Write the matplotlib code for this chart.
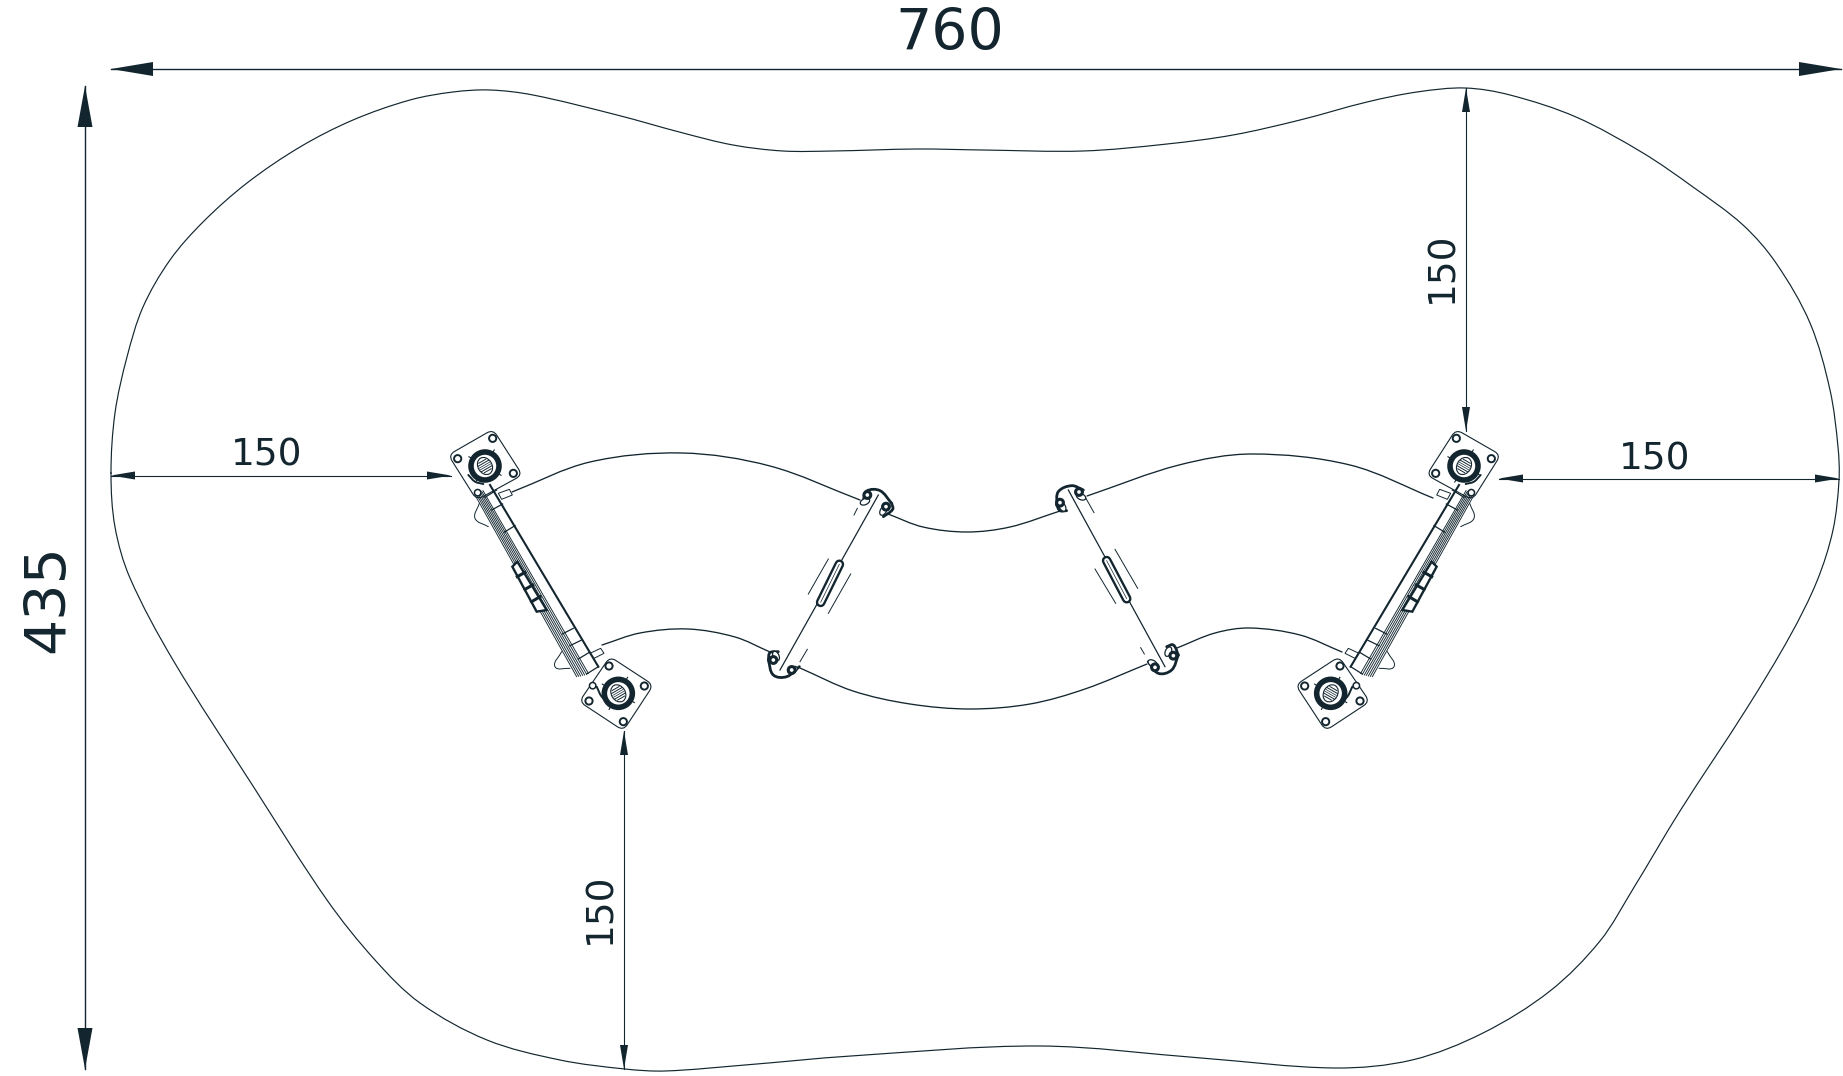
import numpy as np
import matplotlib
matplotlib.use("Agg")
import matplotlib.pyplot as plt
from matplotlib.path import Path
from matplotlib.patches import PathPatch, Polygon, Circle, Ellipse

INK = "#13262f"
W, H = 1843, 1076

# ---- dimension labels ----
dim_width = "760"
dim_height = "435"
dim_clear = "150"

# ---- play-area outline (pixels, clockwise from the left) ----
outline_x = [111, 115, 127, 143, 170, 203, 247, 300, 353, 410, 453, 490, 533, 617, 683, 733, 783, 833, 917, 983,
             1083, 1167, 1233, 1300, 1367, 1417, 1465, 1510, 1576, 1643, 1693, 1743, 1776, 1810, 1830, 1838, 1839,
             1833, 1817, 1790, 1747, 1680, 1633, 1600, 1550, 1483, 1412, 1335, 1201, 1040, 851, 745, 665, 625, 560,
             487, 420, 375, 327, 253, 173, 130, 115]
outline_y = [473, 413, 357, 307, 260, 222, 183, 147, 120, 100, 92, 90, 95, 115, 133, 145, 151, 151, 149, 150,
             151, 144, 135, 120, 102, 92, 88, 95, 117, 153, 187, 225, 263, 323, 390, 447, 480,
             530, 581, 636, 708, 811, 889, 941, 991, 1033, 1060, 1068, 1058, 1046, 1056, 1065, 1071, 1069, 1060,
             1040, 1003, 960, 900, 786, 660, 578, 527]

# ---- net edge curves ----
arc_upper_left = [(512, 492), (590, 462), (682, 453), (770, 466), (860, 500)]
arc_lower_left = [(602, 645), (640, 633), (688, 629), (735, 637), (770, 652)]
arc_mid_top = [(888, 514), (923, 527), (967, 532), (1010, 527), (1060, 511)]
arc_mid_bottom = [(800, 668), (853, 691), (910, 704), (970, 709), (1030, 704), (1085, 689), (1147, 664)]
arc_upper_right = [(1087, 496), (1179, 465), (1252, 454), (1350, 465), (1433, 498)]
arc_lower_right = [(1177, 648), (1215, 633), (1250, 628), (1300, 635), (1342, 652)]

# ---- connecting rods and their grips (zoom-2 frame: x=750+z/3, y=470+z/3) ----
rod_left = [(385, 75), (90, 600)]
rod_right = [(955, 60), (1245, 590)]
grip_left = [(268, 283), (212, 397)]
grip_right = [(1070, 272), (1130, 386)]
side_dashes = [((235, 267), (175, 372)), ((302, 312), (235, 430)), ((322, 115), (312, 135)), ((172, 538), (150, 575)),
               ((1095, 238), (1163, 355)), ((1035, 297), (1097, 400)), ((1005, 80), (1032, 128)), ((1172, 533), (1183, 552))]
clip_arcs = [[(340, 90), (350, 63), (390, 62), (425, 100)], [(425, 100), (428, 118), (400, 140)],
             [(920, 105), (925, 65), (965, 47), (1000, 60)], [(920, 105), (930, 122), (950, 122)],
             [(55, 570), (70, 615), (110, 620), (148, 590)], [(55, 570), (60, 548), (85, 545)],
             [(1195, 575), (1225, 610), (1265, 600), (1285, 555)], [(1285, 555), (1270, 525), (1250, 530)]]
clip_eyes = [(352, 75), (408, 110), (930, 98), (987, 66), (70, 570), (125, 600), (1215, 592), (1270, 557)]
clip_ovals = [(345, 95, -25), (400, 122, -60), (937, 110, 60), (993, 80, 25),
              (78, 558, 65), (128, 600, -30), (1208, 580, 30), (1255, 545, -65)]

# ---- left post assembly (zoom-1 frame: x=430+z/3, y=410+z/3); the right one mirrors it ----
mirror_sum = 1949
plate_top = [(55, 135), (189, 58), (277, 195), (140, 270)]
plate_bottom = [(540, 740), (670, 825), (580, 962), (448, 875)]
hub_top = (165, 168)
hub_bottom = (565, 850)
holes_top = [(188, 85), (83, 146), (250, 190)]
holes_bottom = [(537, 768), (643, 828), (580, 935), (477, 873)]
rail_line = [(180, 225), (505, 770)]
hatch_starts = [(135, 255), (139, 252), (143, 250), (147, 248), (151, 246), (155, 244), (159, 242)]
hatch_ends = [(440, 800), (446, 799), (452, 798), (458, 796), (464, 795), (470, 793), (475, 790)]
rungs = [((165, 262), (200, 240)), ((185, 300), (218, 282)), ((222, 367), (255, 347)),
         ((397, 672), (430, 655)), ((420, 707), (455, 690)), ((445, 747), (478, 727)), ((470, 792), (505, 770))]
chain_outer = [(247, 470), (262, 455), (350, 600), (320, 605), (247, 470)]
chain_bars = [((262, 500), (285, 487)), ((285, 538), (308, 525)), ((305, 575), (330, 560))]
bulges = [[(148, 280), (135, 325), (175, 350)], [(395, 725), (375, 770), (420, 775)]]
tabs = [[(205, 250), (238, 238), (247, 255), (215, 268)], [(480, 730), (512, 715), (522, 730), (492, 745)]]
straps = [[(115, 195), (135, 215), (160, 222)], [(500, 830), (515, 860), (540, 882)]]


def smooth_path(points, closed=False):
    """Chord-scaled Catmull-Rom through the read points, as cubic Bezier segments."""
    p = np.asarray(points, float)
    n = len(p)
    tangents = []
    for i in range(n):
        if closed:
            a, b = p[(i - 1) % n], p[(i + 1) % n]
        else:
            a, b = p[max(i - 1, 0)], p[min(i + 1, n - 1)]
        t = b - a
        tangents.append(t / np.linalg.norm(t))
    verts = [p[0]]
    codes = [Path.MOVETO]
    for i in range(n if closed else n - 1):
        j = (i + 1) % n
        chord = np.linalg.norm(p[j] - p[i])
        verts += [p[i] + tangents[i] * chord / 3, p[j] - tangents[j] * chord / 3, p[j]]
        codes += [Path.CURVE4] * 3
    return Path(verts, codes)


def rounded_path(corners, r):
    c = np.asarray(corners, float)
    n = len(c)
    verts, codes = [], []
    for i in range(n):
        a, b, d = c[i - 1], c[i], c[(i + 1) % n]
        u = (a - b) / np.linalg.norm(a - b)
        v = (d - b) / np.linalg.norm(d - b)
        verts += [b + u * r, b, b + v * r]
        codes += [Path.MOVETO if i == 0 else Path.LINETO, Path.CURVE3, Path.CURVE3]
    verts.append(verts[0])
    codes.append(Path.CLOSEPOLY)
    return Path(verts, codes)


fig = plt.figure(figsize=(W / 100, H / 100), dpi=100, facecolor="white")
ax = fig.add_axes([0, 0, 1, 1])
ax.set_xlim(0, W)
ax.set_ylim(H, 0)
ax.axis("off")


def curve(points, lw=0.8, closed=False, color=INK, zorder=2):
    ax.add_patch(PathPatch(smooth_path(points, closed), fc="none", ec=color, lw=lw, capstyle="round", zorder=zorder))


def arrow_head(tip, direction, length, width):
    tip = np.asarray(tip, float)
    d = np.asarray(direction, float)
    n = np.array([-d[1], d[0]])
    base = tip - d * length
    ax.add_patch(Polygon([tip, base + n * width / 2, base - n * width / 2], closed=True, fc=INK, ec="none", zorder=4))


def dimension(p0, p1, length, width, lw):
    p0, p1 = np.asarray(p0, float), np.asarray(p1, float)
    ax.plot([p0[0], p1[0]], [p0[1], p1[1]], color=INK, lw=lw, zorder=3)
    d = (p1 - p0) / np.linalg.norm(p1 - p0)
    arrow_head(p0, -d, length, width)
    arrow_head(p1, d, length, width)


# outline and net
curve(list(zip(outline_x, outline_y)), lw=0.85, closed=True)
for arc in (arc_upper_left, arc_lower_left, arc_mid_top, arc_mid_bottom, arc_upper_right, arc_lower_right):
    curve(arc, lw=0.95)


def z2(p):
    return (750 + p[0] / 3, 470 + p[1] / 3)


for rod in (rod_left, rod_right):
    a, b = z2(rod[0]), z2(rod[1])
    ax.plot([a[0], b[0]], [a[1], b[1]], color=INK, lw=0.9)
for g in (grip_left, grip_right):
    a, b = z2(g[0]), z2(g[1])
    ax.plot([a[0], b[0]], [a[1], b[1]], color=INK, lw=7.0, solid_capstyle="round", zorder=3)
    ax.plot([a[0], b[0]], [a[1], b[1]], color="white", lw=3.6, solid_capstyle="round", zorder=3)
    ax.plot([a[0], b[0]], [a[1], b[1]], color=INK, lw=0.5, zorder=3)
for s in side_dashes:
    a, b = z2(s[0]), z2(s[1])
    ax.plot([a[0], b[0]], [a[1], b[1]], color=INK, lw=0.7)
for arc in clip_arcs:
    curve([z2(p) for p in arc], lw=2.0)
for zx, zy, ang in clip_ovals:
    ax.add_patch(Ellipse(z2((zx, zy)), 10, 6, angle=ang, fc="white", ec=INK, lw=0.9, zorder=2.6))
for e in clip_eyes:
    x, y = z2(e)
    ax.add_patch(Circle((x, y), 3.4, fc="white", ec=INK, lw=2.2, zorder=3))


def assembly(mirror):
    def m(p):
        x, y = 430 + p[0] / 3, 410 + p[1] / 3
        return (mirror_sum - x if mirror else x, y)

    for corners, hub, holes in ((plate_top, hub_top, holes_top), (plate_bottom, hub_bottom, holes_bottom)):
        ax.add_patch(PathPatch(rounded_path([m(c) for c in corners], 7), fc="white", ec=INK, lw=0.8))
        for h in holes:
            ax.add_patch(Circle(m(h), 3.6, fc="white", ec=INK, lw=1.4))
        cx, cy = m(hub)
        ax.add_patch(Circle((cx, cy), 14.0, fc="white", ec=INK, lw=4.0, zorder=3))
        ang = np.deg2rad(150 if not mirror else 30)
        d = np.array([np.cos(ang), np.sin(ang)])
        nrm = np.array([-d[1], d[0]])
        ax.add_patch(Ellipse((cx, cy), 18, 14, angle=np.rad2deg(ang) + 90, fc="white", ec=INK, lw=0.8, zorder=3.2))
        for off, half in ((-5.5, 4), (-3.2, 6), (3.2, 6), (5.5, 4)):
            a = np.array([cx, cy]) + nrm * off - d * half
            b = np.array([cx, cy]) + nrm * off + d * half
            ax.plot([a[0], b[0]], [a[1], b[1]], color=INK, lw=0.7, zorder=4)
        for off in (-1, 1):
            a = np.array([cx, cy]) + nrm * off - d * 6
            b = np.array([cx, cy]) + nrm * off + d * 6
            ax.plot([a[0], b[0]], [a[1], b[1]], color=INK, lw=0.5, zorder=4)
        for t in np.deg2rad([30, 120, 210, 300]):
            ax.plot([cx + 16 * np.cos(t), cx + 18.5 * np.cos(t)], [cy + 16 * np.sin(t), cy + 18.5 * np.sin(t)],
                    color=INK, lw=0.8, zorder=3)

    a, b = m(rail_line[0]), m(rail_line[1])
    ax.plot([a[0], b[0]], [a[1], b[1]], color=INK, lw=1.5, zorder=3)
    for s, e in zip(hatch_starts, hatch_ends):
        a, b = m(s), m(e)
        ax.plot([a[0], b[0]], [a[1], b[1]], color=INK, lw=0.65, zorder=3)
    for s, e in rungs:
        a, b = m(s), m(e)
        ax.plot([a[0], b[0]], [a[1], b[1]], color=INK, lw=0.9, zorder=3)
    pts = np.array([m(p) for p in chain_outer])
    ax.add_patch(Polygon(pts, closed=True, fc="white", ec=INK, lw=1.7, zorder=3.5))
    for s, e in chain_bars:
        a, b = m(s), m(e)
        ax.plot([a[0], b[0]], [a[1], b[1]], color=INK, lw=2.2, zorder=3.6)
    for bl in bulges:
        curve([m(p) for p in bl], lw=0.7)
    for st in straps:
        curve([m(p) for p in st], lw=1.4, zorder=3.8)
    for tb in tabs:
        ax.add_patch(Polygon([m(p) for p in tb], closed=True, fc="white", ec=INK, lw=0.7, zorder=2.5))
    # eyelet next to the hatch ends
    ax.add_patch(Circle(m((143, 248)), 3.2, fc="white", ec=INK, lw=1.1, zorder=3.7))
    ax.add_patch(Circle(m((488, 827)), 3.2, fc="white", ec=INK, lw=1.1, zorder=3.7))


assembly(False)
assembly(True)

# dimension lines
dimension((111, 69), (1841, 69), 42, 14, 1.0)
dimension((85, 86), (85, 1069), 41, 15, 1.0)
dimension((111, 475.5), (451, 475.5), 24, 8, 0.8)
dimension((1499, 478.5), (1839, 478.5), 24, 8, 0.8)
dimension((1466, 88), (1466, 431), 24, 8, 0.8)
dimension((624, 731), (624, 1069), 24, 8, 0.8)

font = dict(color=INK, family="DejaVu Sans", ha="center", va="center")
ax.text(950, 35, dim_width, fontsize=41, **font)
ax.text(49, 599, dim_height, fontsize=41, rotation=90, **font)
ax.text(267, 456, dim_clear, fontsize=27, **font)
ax.text(1655, 460, dim_clear, fontsize=27, **font)
ax.text(1442, 267, dim_clear, fontsize=27, rotation=90, **font)
ax.text(600, 908, dim_clear, fontsize=27, rotation=90, **font)

fig.savefig("out.png", dpi=100, facecolor="white")
